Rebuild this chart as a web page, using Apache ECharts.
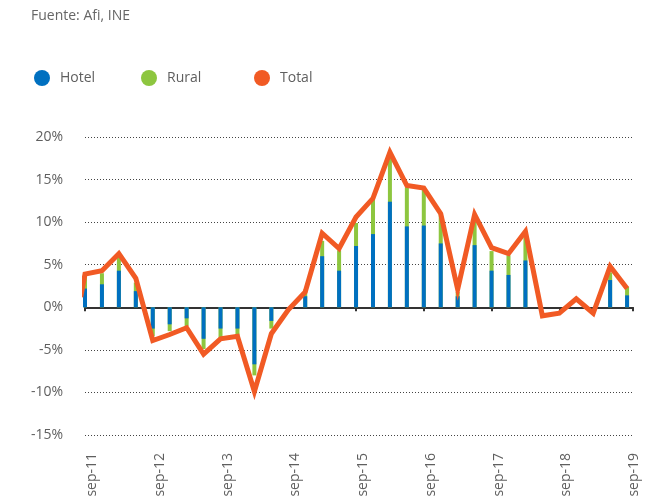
<!DOCTYPE html>
<html>
<head>
<meta charset="utf-8">
<title>Pernoctaciones</title>
<script src="https://cdn.jsdelivr.net/npm/echarts@6/dist/echarts.min.js"></script>
<style>
  html, body { margin: 0; padding: 0; background: #fff; }
  #echarts-container { width: 658px; height: 503px; }
</style>
</head>
<body>
<div id="echarts-container"></div>
<script>
// etiquetas del eje x (una cada 4 trimestres)
var etiquetas = ['sep-11', 'sep-12', 'sep-13', 'sep-14', 'sep-15', 'sep-16', 'sep-17', 'sep-18', 'sep-19'];

// trimestres desde sep-11 hasta sep-19 (33 valores, %)
var hotel = [2.2, 2.7, 4.3, 1.9, -2.5, -2.0, -1.3, -3.7, -2.5, -2.5, -6.7, -1.6, null, 1.3, 6.0, 4.3,
    7.2, 8.6, 12.4, 9.5, 9.6, 7.5, 1.3, 7.3, 4.3, 3.8, 5.5, null, null, null, null, 3.2, 1.4];
var rural = [1.4, 1.3, 1.6, 1.0, -0.9, -0.8, -0.9, -1.2, -1.1, -1.1, -1.3, -0.9, null, 0.8, 1.8, 2.4,
    2.7, 4.3, 5.2, 4.6, 4.3, 3.5, 0.5, 2.7, 2.3, 2.3, 2.7, null, null, null, null, 0.9, 1.0];
var total = [3.9, 4.3, 6.3, 3.4, -3.9, -3.2, -2.4, -5.5, -3.7, -3.4, -9.9, -3.1, -0.3, 1.8, 8.7, 6.9,
    10.6, 12.8, 18.2, 14.3, 14.0, 11.0, 2.1, 10.9, 7.0, 6.3, 8.9, -1.0, -0.7, 1.0, -0.7, 4.8, 2.2];
// punto inicial del total, justo antes de sep-11
var totalInicial = 1.2;

var fuente = '"Open Sans", "Liberation Sans", sans-serif';
var gris = '#5f5f5f';

function pares(arr) {
    var out = [];
    for (var i = 0; i < arr.length; i++) {
        if (arr[i] !== null) out.push([i, arr[i]]);
    }
    return out;
}

// rural va apilado encima de hotel (la barra verde se dibuja detras de la azul)
var hotelMasRural = hotel.map(function (h, i) {
    return h === null ? null : h + rural[i];
});

var posEtiquetas = etiquetas.map(function (e, i) { return i * 4; });
var xMax = 32.35;

var myChart = echarts.init(document.getElementById('echarts-container'));
var option = {
    animation: false,
    textStyle: { fontFamily: fuente },
    title: {
        text: 'Fuente: Afi, INE',
        left: 26,
        top: 4,
        textStyle: { fontFamily: fuente, fontSize: 14, fontWeight: 'normal', color: '#666' }
    },
    legend: [
        { name: 'Hotel', left: 29 },
        { name: 'Rural', left: 136 },
        { name: 'Total', left: 249 }
    ].map(function (l) {
        return {
            data: [{ name: l.name, icon: 'circle' }],
            left: l.left,
            top: 65,
            itemWidth: 16,
            itemHeight: 16,
            textStyle: { fontFamily: fuente, fontSize: 14, color: gris, padding: [0, 0, 0, 5] }
        };
    }),
    grid: { left: 85, right: 25, top: 137, bottom: 68 },
    xAxis: [
        {
            type: 'value',
            min: 0,
            max: xMax,
            axisLine: { onZero: true, lineStyle: { color: '#333', width: 2 } },
            axisTick: {
                show: true,
                length: 4,
                customValues: posEtiquetas.slice(0, 8).concat([xMax]),
                lineStyle: { color: '#333', width: 2 }
            },
            axisLabel: { show: false },
            splitLine: { show: false }
        },
        {
            type: 'value',
            min: 0,
            max: xMax,
            position: 'bottom',
            axisLine: { show: false, onZero: false },
            axisTick: { show: false },
            splitLine: { show: false },
            axisLabel: {
                show: true,
                rotate: 90,
                margin: 18,
                customValues: posEtiquetas,
                verticalAlign: 'top',
                fontFamily: fuente,
                fontSize: 14,
                color: gris,
                formatter: function (v) { return etiquetas[Math.round(v / 4)]; }
            }
        }
    ],
    yAxis: {
        type: 'value',
        min: -15,
        max: 20,
        interval: 5,
        axisLine: { show: false },
        axisTick: { show: false },
        axisLabel: {
            formatter: '{value}%',
            margin: 22,
            fontFamily: fuente,
            fontSize: 14,
            color: gris
        },
        splitLine: { lineStyle: { type: [1, 2], color: '#444', width: 1 } }
    },
    series: [
        {
            name: 'Rural',
            type: 'bar',
            barWidth: 4,
            barGap: '-100%',
            itemStyle: { color: '#8dc63f' },
            data: pares(hotelMasRural)
        },
        {
            name: 'Hotel',
            type: 'bar',
            barWidth: 4,
            barGap: '-100%',
            itemStyle: { color: '#0070c0' },
            data: pares(hotel)
        },
        {
            name: 'Total',
            type: 'line',
            symbol: 'none',
            clip: false,
            itemStyle: { color: '#f15a24' },
            lineStyle: { color: '#f15a24', width: 5, join: 'miter' },
            data: [[-0.25, totalInicial]].concat(pares(total))
        }
    ]
};
myChart.setOption(option);
</script>
</body>
</html>
